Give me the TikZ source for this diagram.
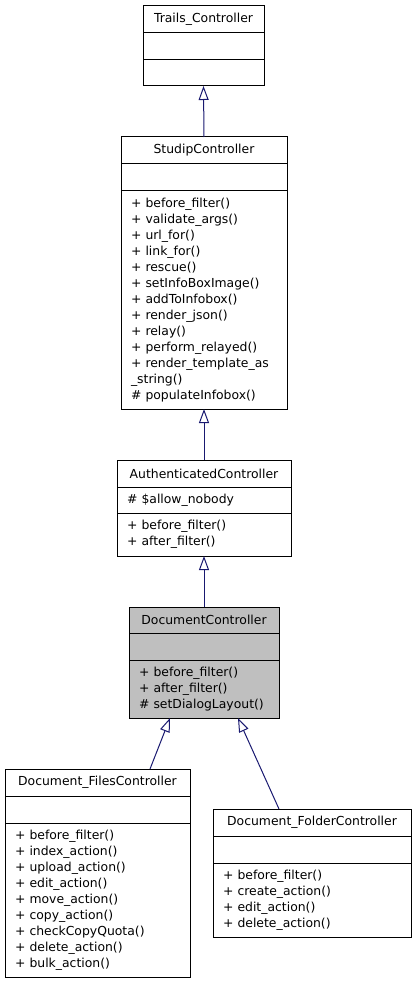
\documentclass[tikz,border=0pt]{standalone}
\usepackage{fontspec}
\setmainfont{DejaVu Sans}
\usetikzlibrary{positioning,arrows.meta,calc}
\definecolor{edgeblue}{HTML}{191970}
\definecolor{focusgray}{HTML}{BFBFBF}

\begin{document}
\begin{tikzpicture}[
    x=1pt, y=1pt,
    every node/.style={font=\fontsize{12.4}{16}\selectfont},
    clsname/.style={
        draw=black, line width=1pt, outer sep=0pt,
        inner xsep=10pt, inner ysep=0pt, minimum height=27pt,
        text width=#1, align=center
    },
    clsattr/.style={
        draw=black, line width=1pt, outer sep=0pt,
        inner xsep=10pt, inner ysep=0pt, minimum height=27pt,
        text width=#1, align=left
    },
    clsops/.style={
        draw=black, line width=1pt, outer sep=0pt,
        inner xsep=10pt, inner ysep=0pt,
        text width=#1, align=left
    },
    inherit/.style={
        draw=edgeblue, line width=1pt,
        -{Triangle[open, length=14pt, width=10pt]}
    },
]
\useasboundingbox (0,0) rectangle (416,-984);

% === Trails_Controller ===
\node[clsname=101pt, anchor=north west] (trails) at (143,-6) {Trails\_Controller};
\node[clsattr=101pt, below=0pt of trails] (trails_a) {};
\node[clsops=101pt, minimum height=26pt, below=0pt of trails_a] (trails_o) {};

% === StudipController ===
\node[clsname=146pt, anchor=north west] (studip) at (121,-137) {StudipController};
\node[clsattr=146pt, below=0pt of studip] (studip_a) {};
\node[clsops=146pt, minimum height=218pt, below=0pt of studip_a] (studip_o) {%
    + before\_filter()\\
    + validate\_args()\\
    + url\_for()\\
    + link\_for()\\
    + rescue()\\
    + setInfoBoxImage()\\
    + addToInfobox()\\
    + render\_json()\\
    + relay()\\
    + perform\_relayed()\\
    + render\_template\_as\\
    \_string()\\
    \# populateInfobox()};

% === AuthenticatedController ===
\node[clsname=154pt, anchor=north west] (auth) at (117,-460) {AuthenticatedController};
\node[clsattr=154pt, minimum height=26pt, below=0pt of auth] (auth_a) {\# \$allow\_nobody};
\node[clsops=154pt, minimum height=43pt, below=0pt of auth_a] (auth_o) {%
    + before\_filter()\\
    + after\_filter()};

% === DocumentController ===
\node[clsname=130pt, fill=focusgray, minimum height=26pt, anchor=north west] (doc) at (129,-607) {DocumentController};
\node[clsattr=130pt, fill=focusgray, below=0pt of doc] (doc_a) {};
\node[clsops=130pt, fill=focusgray, minimum height=58pt, below=0pt of doc_a] (doc_o) {%
    + before\_filter()\\
    + after\_filter()\\
    \# setDialogLayout()};

% === Document_FilesController ===
\node[clsname=165pt, anchor=north west] (files) at (5,-769) {Document\_FilesController};
\node[clsattr=165pt, below=0pt of files] (files_a) {};
\node[clsops=165pt, minimum height=154pt, below=0pt of files_a] (files_o) {%
    + before\_filter()\\
    + index\_action()\\
    + upload\_action()\\
    + edit\_action()\\
    + move\_action()\\
    + copy\_action()\\
    + checkCopyQuota()\\
    + delete\_action()\\
    + bulk\_action()};

% === Document_FolderController ===
\node[clsname=178pt, anchor=north west] (folder) at (213,-809) {Document\_FolderController};
\node[clsattr=178pt, below=0pt of folder] (folder_a) {};
\node[clsops=178pt, minimum height=74pt, below=0pt of folder_a] (folder_o) {%
    + before\_filter()\\
    + create\_action()\\
    + edit\_action()\\
    + delete\_action()};

% === Inheritance ===
\draw[inherit] (studip.north) -- (trails_o.south);
\draw[inherit] (auth.north) -- (studip_o.south);
\draw[inherit] (doc.north) -- (auth_o.south);
\draw[inherit] ($(files.north west)+(145,0)$) -- ($(doc_o.south west)+(41,0)$);
\draw[inherit] ($(folder.north west)+(66,0)$) -- ($(doc_o.south east)+(-41,0)$);

\end{tikzpicture}
\end{document}
